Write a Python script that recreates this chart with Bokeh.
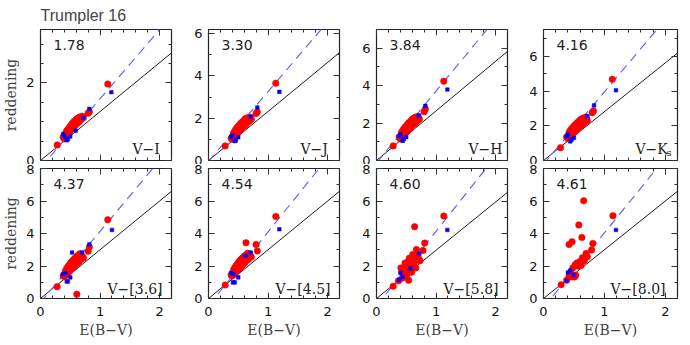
from bokeh.plotting import figure
from bokeh.layouts import row, column
from bokeh.models import Range1d, LinearAxis, SingleIntervalTicker, Label, CustomLabelingPolicy
from bokeh.embed import file_html
from bokeh.resources import INLINE

# ---------------- data ----------------
bands = ["V−I", "V−J", "V−H", "V−K", "V−[3.6]", "V−[4.5]", "V−[5.8]", "V−[8.0]"]
slope_labels = ["1.78", "3.30", "3.84", "4.16", "4.37", "4.54", "4.60", "4.61"]
fit_slope = [1.78, 3.30, 3.84, 4.16, 4.37, 4.54, 4.60, 4.61]
fit_icpt = [-0.19, -0.04, -0.13, -0.21, -0.24, -0.44, -0.46, -0.57]
normal_slope = [1.26, 2.32, 2.65, 2.81, 3.00, 3.00, 2.97, 3.00]
y_max = [3.375, 6.2, 7.0, 7.54, 8.0, 8.0, 8.0, 8.0]
y_minor = [4, 2, 2, 2, 2, 2, 2, 2]

ebv_red = [0.28, 0.38, 0.40, 0.42, 0.43, 0.44, 0.45, 0.46, 0.47, 0.48,
           0.49, 0.50, 0.51, 0.52, 0.53, 0.54, 0.55, 0.56, 0.57, 0.58,
           0.59, 0.60, 0.61, 0.62, 0.63, 0.64, 0.65, 0.66, 0.68, 0.70,
           0.72, 0.80, 0.82, 1.13]
red_vi = [0.40, 0.60, 0.56, 0.70, 0.62, 0.76, 0.66, 0.80, 0.70, 0.84,
          0.74, 0.88, 0.80, 0.92, 0.84, 0.96, 0.86, 1.00, 0.90, 1.02,
          0.92, 1.06, 0.95, 1.08, 0.98, 1.10, 1.00, 1.12, 1.05, 1.14,
          1.10, 1.22, 1.25, 1.97]
red_vj = [0.69, 1.05, 1.00, 1.30, 1.10, 1.38, 1.20, 1.48, 1.28, 1.55,
          1.30, 1.62, 1.40, 1.68, 1.45, 1.75, 1.50, 1.80, 1.58, 1.85,
          1.62, 1.92, 1.66, 1.98, 1.72, 2.00, 1.80, 2.02, 1.85, 2.05,
          1.95, 2.22, 2.30, 3.66]
red_vh = [0.78, 1.25, 1.15, 1.50, 1.25, 1.60, 1.35, 1.70, 1.42, 1.78,
          1.48, 1.85, 1.55, 1.92, 1.62, 2.00, 1.70, 2.05, 1.78, 2.12,
          1.85, 2.20, 1.90, 2.25, 1.95, 2.28, 2.00, 2.32, 2.10, 2.35,
          2.20, 2.60, 2.75, 4.24]
red_vk = [0.74, 1.35, 1.25, 1.62, 1.35, 1.72, 1.45, 1.82, 1.52, 1.90,
          1.58, 1.98, 1.65, 2.05, 1.72, 2.12, 1.80, 2.18, 1.88, 2.25,
          1.95, 2.32, 2.00, 2.38, 2.05, 2.42, 2.10, 2.45, 2.20, 2.50,
          2.30, 2.75, 2.85, 4.67]
red_36 = [0.73, 1.40, 1.35, 1.70, 1.45, 1.85, 1.55, 1.95, 1.62, 2.05,
          1.70, 2.15, 1.78, 2.25, 1.85, 2.32, 1.92, 2.40, 2.00, 2.48,
          2.10, 2.55, 0.26, 2.62, 2.20, 2.68, 2.30, 2.75, 2.40, 2.60,
          2.50, 2.91, 3.17, 4.85]
red_45 = [0.83, 1.45, 1.40, 1.75, 1.50, 1.90, 1.60, 2.00, 1.68, 2.10,
          1.75, 2.20, 1.82, 2.30, 1.90, 2.38, 1.98, 2.45, 2.05, 2.52,
          2.15, 2.60, 2.20, 2.65, 3.43, 2.70, 2.35, 2.78, 2.45, 2.65,
          2.55, 3.33, 2.93, 5.05]
ebv_58 = [0.28, 0.37, 0.41, 0.43, 0.44, 0.45, 0.46, 0.48, 0.49, 0.50,
          0.51, 0.52, 0.54, 0.54, 0.55, 0.56, 0.58, 0.59, 0.61, 0.63,
          0.64, 0.66, 0.67, 0.70, 0.73, 0.78, 0.81, 1.13,
          0.47, 0.53, 0.57, 0.60, 0.62, 0.68]
red_58 = [0.75, 1.09, 1.88, 1.25, 1.62, 1.84, 1.43, 2.18, 1.68, 1.35,
          2.04, 1.54, 1.84, 1.13, 2.48, 2.28, 2.08, 1.62, 2.71, 2.18,
          4.42, 1.88, 3.01, 2.53, 2.32, 2.95, 3.41, 5.07,
          1.95, 2.25, 2.40, 2.45, 2.55, 2.65]
ebv_80 = [0.29, 0.38, 0.42, 0.42, 0.44, 0.46, 0.47, 0.48, 0.49, 0.51,
          0.52, 0.53, 0.55, 0.57, 0.58, 0.60, 0.62, 0.63, 0.64, 0.66,
          0.67, 0.70, 0.72, 0.79, 0.81, 1.14]
red_80 = [0.85, 1.13, 1.39, 3.33, 1.58, 1.33, 3.49, 1.88, 1.45, 1.33,
          2.08, 1.43, 2.18, 1.98, 4.53, 2.28, 2.04, 3.76, 2.51, 6.02,
          2.32, 2.77, 2.57, 2.99, 3.39, 5.09]

red_x = [ebv_red, ebv_red, ebv_red, ebv_red, ebv_red, ebv_red, ebv_58, ebv_80]
red_y = [red_vi, red_vj, red_vh, red_vk, red_36, red_45, red_58, red_80]

blue_x = [
    [0.38, 0.40, 0.44, 0.46, 0.50, 0.59, 0.72, 0.82, 1.19],
    [0.38, 0.40, 0.44, 0.46, 0.50, 0.71, 0.82, 1.19],
    [0.38, 0.40, 0.44, 0.46, 0.50, 0.71, 0.82, 1.19],
    [0.38, 0.40, 0.44, 0.46, 0.50, 0.72, 0.83, 1.19],
    [0.38, 0.42, 0.44, 0.46, 0.50, 0.53, 0.70, 0.82, 1.20],
    [0.38, 0.41, 0.44, 0.42, 0.50, 0.62, 0.71, 1.19],
    [0.38, 0.40, 0.44, 0.57, 0.72, 1.19],
    [0.38, 0.40, 0.44, 0.50, 1.19],
]
blue_y = [
    [0.68, 0.62, 0.52, 0.55, 0.62, 0.77, 1.10, 1.33, 1.76],
    [1.13, 1.18, 0.92, 0.95, 1.10, 2.07, 2.51, 3.25],
    [1.30, 1.40, 1.05, 1.15, 1.25, 2.40, 2.92, 3.79],
    [1.40, 1.50, 1.10, 1.20, 1.30, 2.55, 3.17, 4.04],
    [1.50, 1.55, 1.05, 1.05, 1.30, 2.83, 2.83, 3.33, 4.22],
    [1.58, 0.99, 0.99, 1.50, 1.30, 2.63, 2.83, 4.26],
    [1.15, 1.58, 1.33, 1.84, 2.77, 4.22],
    [1.09, 1.60, 1.72, 1.45, 4.22],
]
x_range_max = 2.2
line_x = [0.0, 2.2]

# ---------------- styling ----------------
SANS = "DejaVu Sans"
SERIF = "DejaVu Serif"
TICK_COL = "#333333"
FRAME_W, TOP_H, BOT_H = 134, 135, 134
LEFTS = [40, 33, 33, 32]
RIGHTS = [1, 1, 1, 13]

NO_LABELS = "for (const i of indices) { indices.unset(i) }\nreturn indices"


def style_axis(ax, show_labels, standoff=6):
    ax.major_tick_in = 6
    ax.major_tick_out = 0
    ax.minor_tick_in = 3
    ax.minor_tick_out = 0
    ax.major_tick_line_color = TICK_COL
    ax.minor_tick_line_color = TICK_COL
    ax.axis_line_color = None
    ax.major_label_text_font = SANS
    ax.major_label_text_color = "#111111"
    if show_labels:
        ax.major_label_text_font_size = "13px"
        ax.major_label_standoff = standoff
    else:
        ax.major_label_text_font_size = "1px"
        ax.major_label_standoff = 0
        ax.major_label_policy = CustomLabelingPolicy(code=NO_LABELS)


def make_panel(i):
    top = i < 4
    col = i % 4
    left = LEFTS[col]
    right = RIGHTS[col]
    tb = 29 if top else 0
    bb = 0 if top else 47
    fh = TOP_H if top else BOT_H
    p = figure(width=left + FRAME_W + right, height=tb + fh + bb,
               x_range=Range1d(0, x_range_max), y_range=Range1d(0, y_max[i]),
               output_backend="svg", toolbar_location=None,
               x_axis_location=None, y_axis_location=None,
               min_border_left=left, min_border_right=right,
               min_border_top=tb, min_border_bottom=bb,
               background_fill_color="white", border_fill_color="white")
    p.outline_line_color = "#222222"
    p.outline_line_width = 1.2
    p.xgrid.visible = False
    p.ygrid.visible = False

    xt = lambda: SingleIntervalTicker(interval=1, num_minor_ticks=5)
    yt = lambda: SingleIntervalTicker(interval=2, num_minor_ticks=y_minor[i])

    yl = LinearAxis(ticker=yt())
    style_axis(yl, True, 6)
    if col == 0:
        yl.axis_label = "reddening"
        yl.axis_label_text_font = SERIF
        yl.axis_label_text_font_size = "14px"
        yl.axis_label_text_font_style = "normal"
        yl.axis_label_standoff = 4
    p.add_layout(yl, "left")

    yr = LinearAxis(ticker=yt())
    style_axis(yr, False)
    p.add_layout(yr, "right")

    xb = LinearAxis(ticker=xt())
    style_axis(xb, not top, 8)
    if not top:
        xb.axis_label = "E(B−V)"
        xb.axis_label_text_font = SERIF
        xb.axis_label_text_font_size = "14px"
        xb.axis_label_text_font_style = "normal"
        xb.axis_label_standoff = 3
    p.add_layout(xb, "below")

    xa = LinearAxis(ticker=xt())
    style_axis(xa, False)
    p.add_layout(xa, "above")

    # reference lines
    p.line(line_x, [normal_slope[i] * v for v in line_x], line_color="black", line_width=0.9)
    p.line(line_x, [fit_slope[i] * v + fit_icpt[i] for v in line_x],
           line_color="#5a5aff", line_width=1.1, line_dash="9 6")

    p.scatter(red_x[i], red_y[i], marker="circle", size=6.5,
              fill_color="#ff0000", line_color="#ff0000", line_width=0.5)
    p.scatter(blue_x[i], blue_y[i], marker="square", size=3.6,
              fill_color="#0000ff", line_color="#0000ff", line_width=0.5)

    p.add_layout(Label(x=0, y=y_max[i], x_offset=13, y_offset=-10,
                       text=slope_labels[i], text_font=SANS, text_font_size="14px",
                       text_color="#222222", text_baseline="top", text_align="left"))
    bx = 92 if top else 67
    by = 12 if top else 10
    p.add_layout(Label(x=0, y=0, x_offset=bx, y_offset=by, text=bands[i],
                       text_font=SERIF, text_font_size="14px", text_color="#222222",
                       text_baseline="alphabetic", text_align="left"))
    if bands[i] == "V−K":
        p.add_layout(Label(x=0, y=0, x_offset=bx + 31, y_offset=by - 4, text="s",
                           text_font=SERIF, text_font_size="10px", text_color="#222222",
                           text_baseline="alphabetic", text_align="left"))
    if i == 0:
        p.title.text = "Trumpler 16"
        p.title.text_font = "Liberation Sans"
        p.title.text_font_size = "16px"
        p.title.text_font_style = "normal"
        p.title.align = "left"
        p.title.standoff = 3
        p.title.offset = 0
    return p


panels = [make_panel(i) for i in range(8)]
layout = column(row(*panels[:4], spacing=0), row(*panels[4:], spacing=0), spacing=0)

open("out.html", "w").write(file_html(layout, INLINE))
